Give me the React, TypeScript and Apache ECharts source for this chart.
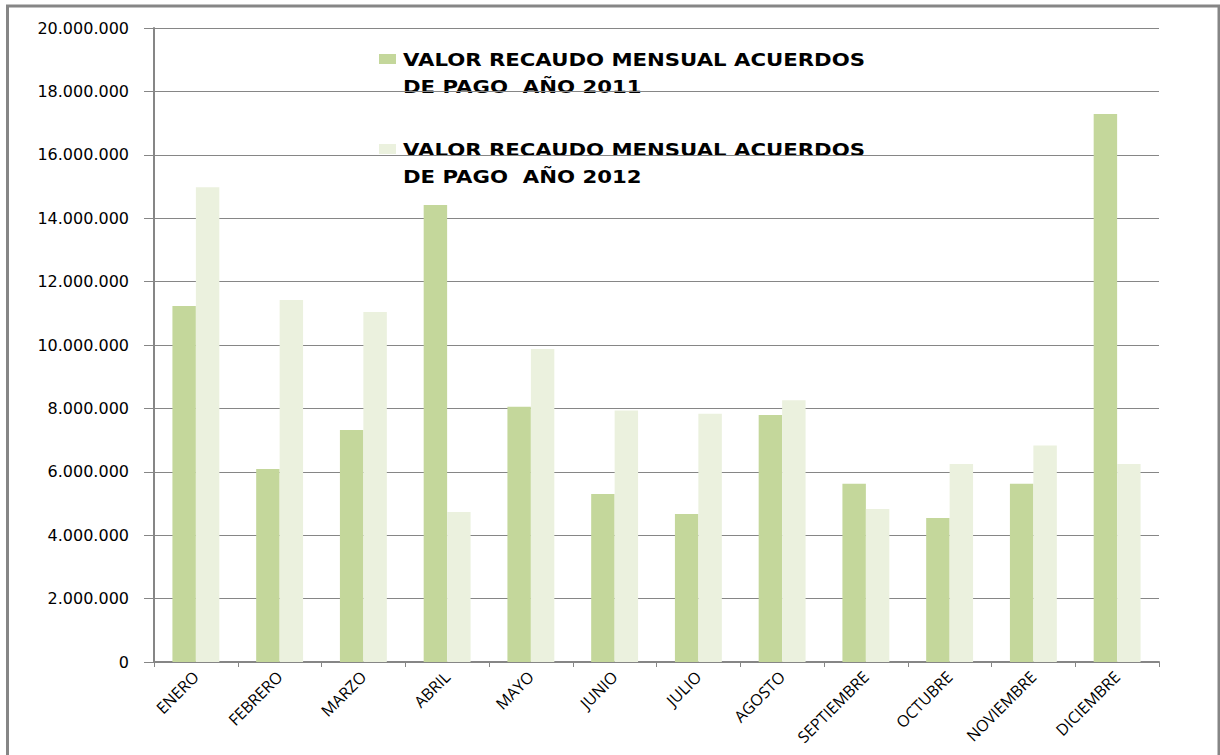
import React, { useEffect, useRef } from "react";
import * as echarts from "echarts";

const months = [
  "ENERO", "FEBRERO", "MARZO", "ABRIL", "MAYO", "JUNIO",
  "JULIO", "AGOSTO", "SEPTIEMBRE", "OCTUBRE", "NOVIEMBRE", "DICIEMBRE",
];

const values2011 = [
  11230000, 6090000, 7320000, 14420000, 8050000, 5300000,
  4670000, 7790000, 5620000, 4540000, 5620000, 17290000,
];

const values2012 = [
  14980000, 11420000, 11040000, 4730000, 9870000, 7930000,
  7830000, 8260000, 4830000, 6250000, 6830000, 6250000,
];

const seriesNames = [
  ["VALOR RECAUDO MENSUAL ACUERDOS", "DE PAGO  AÑO 2011"],
  ["VALOR RECAUDO MENSUAL ACUERDOS", "DE PAGO  AÑO 2012"],
];

const colors = ["#C4D79B", "#EBF1DE"];

const fmt = (v: number) =>
  String(Math.round(v)).replace(/\B(?=(\d{3})+(?!\d))/g, ".");

export default function App() {
  const ref = useRef<HTMLDivElement>(null);

  useEffect(() => {
    if (!ref.current) return;
    const chart = echarts.init(ref.current, undefined, { renderer: "svg" });
    const axisGray = "#868686";

    const legendGraphics: any[] = [];
    seriesNames.forEach((lines, i) => {
      const baseY = 60 + i * 90;
      legendGraphics.push({
        type: "rect",
        shape: { x: 379, y: baseY - 6, width: 17, height: 10 },
        style: { fill: colors[i] },
      });
      legendGraphics.push({
        type: "text",
        x: 403,
        y: baseY - 13.5,
        scaleX: 1.18,
        style: {
          text: lines.join("\n"),
          font: "bold 18px 'DejaVu Sans'",
          fill: "#000000",
          lineHeight: 27,
          verticalAlign: "top",
          align: "left",
        },
      });
    });

    chart.setOption({
      animation: false,
      backgroundColor: "#ffffff",
      grid: { left: 154, right: 61, top: 28, bottom: 93, containLabel: false },
      xAxis: {
        type: "category",
        data: months,
        axisLine: { show: true, lineStyle: { color: axisGray, width: 2 } },
        axisTick: { show: true, length: 5, lineStyle: { color: axisGray, width: 1 } },
        axisLabel: {
          rotate: 45,
          margin: 12,
          fontFamily: "Open Sans",
          fontSize: 16,
          color: "#000000",
          interval: 0,
        },
        splitLine: { show: false },
      },
      yAxis: {
        type: "value",
        min: 0,
        max: 20000000,
        interval: 2000000,
        axisLine: { show: true, lineStyle: { color: axisGray, width: 2 } },
        axisTick: { show: true, length: 10, lineStyle: { color: axisGray, width: 1 } },
        axisLabel: {
          formatter: (v: number) => fmt(v),
          margin: 25,
          fontFamily: "DejaVu Sans",
          fontSize: 16,
          color: "#000000",
        },
        splitLine: { show: true, lineStyle: { color: axisGray, width: 1 } },
      },
      series: [
        {
          name: seriesNames[0].join(" "),
          type: "bar",
          data: values2011,
          itemStyle: { color: colors[0] },
          barGap: "0%",
          barCategoryGap: "44%",
        },
        {
          name: seriesNames[1].join(" "),
          type: "bar",
          data: values2012,
          itemStyle: { color: colors[1] },
          barGap: "0%",
          barCategoryGap: "44%",
        },
      ],
      graphic: [
        {
          type: "rect",
          shape: { x: 7.5, y: 6, width: 1211.5, height: 800 },
          style: { fill: "none", stroke: axisGray, lineWidth: 3 },
          silent: true,
        },
        ...legendGraphics,
      ],
    });

    return () => chart.dispose();
  }, []);

  return (
    <div
      ref={ref}
      style={{ position: "absolute", left: 0, top: 0, width: 1220, height: 755 }}
    />
  );
}
